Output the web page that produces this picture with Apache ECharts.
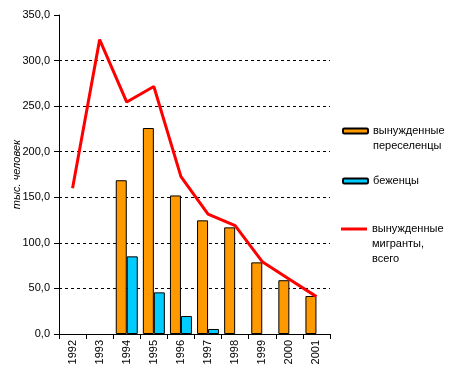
<!DOCTYPE html>
<html><head><meta charset="utf-8">
<script src="https://cdn.jsdelivr.net/npm/echarts@6/dist/echarts.min.js"></script>
<style>html,body{margin:0;padding:0;background:#fff}#c{width:452px;height:373px}</style>
</head><body><div id="c"></div>
<script>
const years = ['1992','1993','1994','1995','1996','1997','1998','1999','2000','2001'];
const forcedSettlers = [null, null, 168.7, 226, 152, 124.7, 117, 78.6, 59, 41.7];
const refugees = [null, null, 85.2, 45.7, 19.7, 5.5, null, null, null, null];
const forcedMigrantsTotal = [160, 323, 254.5, 271.5, 172.7, 131.4, 118.9, 79.4, 60, 41];
const yTicks = [0, 50, 100, 150, 200, 250, 300, 350];

const nameSettlers = 'вынужденные\nпереселенцы';
const nameRefugees = 'беженцы';
const nameTotal = 'вынужденные\nмигранты,\nвсего';
const font = 'Liberation Sans, Arial, sans-serif';

const chart = echarts.init(document.getElementById('c'), null, {renderer: 'canvas'});
const txt = {fontFamily: font, fontSize: 11, color: '#000', lineHeight: 15};
const legendBase = {
  orient: 'vertical', left: 342, padding: 0, itemWidth: 25, itemHeight: 5, itemGap: 0,
  selectedMode: false, textStyle: txt
};
chart.setOption({
  animation: false,
  backgroundColor: '#fff',
  grid: {left: 59, top: 15, right: 122, bottom: 39, containLabel: false, outerBoundsMode: 'none'},
  legend: [
    Object.assign({}, legendBase, {top: 108.5, data: [nameSettlers],
      formatter: n => '\n' + n}),
    Object.assign({}, legendBase, {top: 173.5, data: [nameRefugees]}),
    Object.assign({}, legendBase, {top: 191.5, left: 341, itemWidth: 26, itemHeight: 3,
      data: [{name: nameTotal, icon: 'rect', itemStyle: {color: '#FF0000', borderWidth: 0}}],
      formatter: n => '\n\n' + n})
  ],
  xAxis: {
    type: 'category', data: years, boundaryGap: true,
    axisLine: {lineStyle: {color: '#000', width: 1}},
    axisTick: {show: true, length: 5, lineStyle: {color: '#000'}},
    axisLabel: {rotate: 90, fontFamily: font, fontSize: 11, color: '#000', margin: 6, interval: 0}
  },
  yAxis: {
    type: 'value', min: yTicks[0], max: yTicks[yTicks.length - 1], interval: 50,
    name: 'тыс. человек', nameLocation: 'middle', nameGap: 37, nameRotate: 90,
    nameMoveOverlap: false,
    nameTextStyle: {fontFamily: font, fontSize: 11, fontStyle: 'italic', color: '#000'},
    axisLine: {show: true, lineStyle: {color: '#000', width: 1}},
    axisTick: {show: true, length: 5, lineStyle: {color: '#000'}},
    axisLabel: {fontFamily: font, fontSize: 11, color: '#000', margin: 9,
      formatter: v => v.toFixed(1).replace('.', ',')},
    splitLine: {show: true, showMinLine: false, showMaxLine: false,
      lineStyle: {color: '#000', type: [3, 3], width: 1}}
  },
  series: [
    {name: nameSettlers, type: 'bar', data: forcedSettlers, barWidth: 11, barGap: '0%',
      itemStyle: {color: '#FF9900', borderColor: '#000', borderWidth: 1}},
    {name: nameRefugees, type: 'bar', data: refugees, barWidth: 11, barGap: '0%',
      itemStyle: {color: '#00CCFF', borderColor: '#000', borderWidth: 1}},
    {name: nameTotal, type: 'line', data: forcedMigrantsTotal, symbol: 'none',
      lineStyle: {color: '#FF0000', width: 3}, itemStyle: {color: '#FF0000'}}
  ]
});
</script></body></html>
